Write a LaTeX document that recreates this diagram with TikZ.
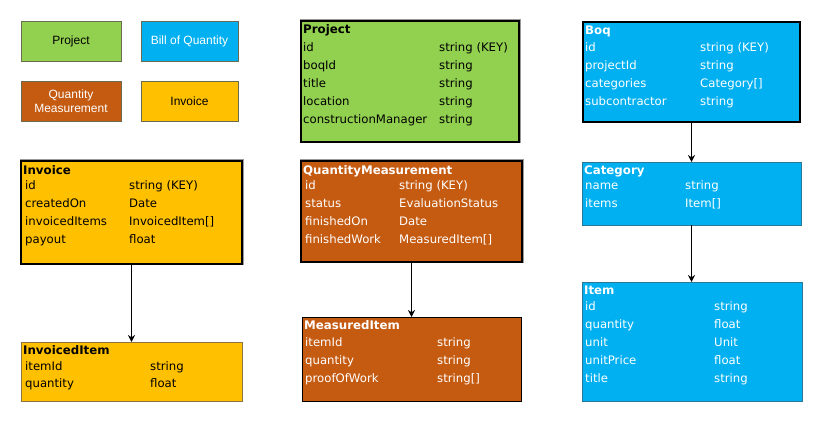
\documentclass[tikz,border=0pt]{standalone}
\usepackage{fontspec}
\setmainfont{DejaVu Sans}
\newfontfamily\legendfont{Liberation Sans}
\usetikzlibrary{arrows.meta}
\definecolor{cgreen}{HTML}{92D050}
\definecolor{cblue}{HTML}{00B0F0}
\definecolor{corange}{HTML}{C55A11}
\definecolor{cyellow}{HTML}{FFC000}
\definecolor{lborder}{HTML}{6B6B50}
\definecolor{bborder}{HTML}{2C7894}
\definecolor{yborder}{HTML}{8A7340}
\tikzset{
  legendbox/.style={draw=lborder, line width=0.9pt, inner sep=0pt, outer sep=0pt, anchor=north west, align=center, font=\legendfont\fontsize{12}{14.5}\selectfont},
  tbox/.style={inner sep=0pt, outer sep=0pt, anchor=north west},
  thickbox/.style={tbox, draw=black, line width=1.8pt, preaction={draw=gray!80, line width=3pt}},
  thinbox/.style={tbox, line width=0.9pt},
  ttl/.style={anchor=mid west, inner sep=0pt, yshift=-1.5pt, font=\fontsize{11.8}{14}\selectfont\bfseries},
  fld/.style={anchor=mid west, inner sep=0pt, yshift=-1.5pt, font=\fontsize{11.7}{14}\selectfont},
  arr/.style={draw=black, line width=1pt, -{Stealth[length=7pt,width=7pt]}},
}
\begin{document}
\begin{tikzpicture}[x=1pt,y=-1pt]
\useasboundingbox (0,0) rectangle (823,422);
% legend
\node[legendbox, fill=cgreen, minimum width=100, minimum height=40] (lp) at (21,21) {Project};
\node[legendbox, fill=cblue, text=white, minimum width=97, minimum height=40] (lb) at (141,21) {Bill of Quantity};
\node[legendbox, fill=corange, text=white, minimum width=100, minimum height=40] (lq) at (21,81) {Quantity\\Measurement};
\node[legendbox, fill=cyellow, minimum width=97, minimum height=40] (li) at (141,81) {Invoice};

% Project
\node[thickbox, fill=cgreen, minimum width=218, minimum height=121] (proj) at (301,21) {};
\node[ttl] (projt) at (303,29.5) {Project};
\node[fld] (p1a) at (303,47.3) {id};               \node[fld] (p1b) at (439,47.3) {string (KEY)};
\node[fld] (p2a) at (303,65.3) {boqId};            \node[fld] (p2b) at (439,65.3) {string};
\node[fld] (p3a) at (303,83.3) {title};            \node[fld] (p3b) at (439,83.3) {string};
\node[fld] (p4a) at (303,101.3) {location};        \node[fld] (p4b) at (439,101.3) {string};
\node[fld] (p5a) at (303,119.3) {constructionManager}; \node[fld] (p5b) at (439,119.3) {string};

% Boq
\node[tbox, draw=black, line width=2.2pt, fill=cblue, minimum width=217, minimum height=100] (boq) at (583,22) {};
\begin{scope}[every node/.append style={text=white}]
\node[ttl] (boqt) at (585,30) {Boq};
\node[fld] (b1a) at (585,47.7) {id};            \node[fld] (b1b) at (700,47.7) {string (KEY)};
\node[fld] (b2a) at (585,65.5) {projectId};     \node[fld] (b2b) at (700,65.5) {string};
\node[fld] (b3a) at (585,83.3) {categories};    \node[fld] (b3b) at (700,83.3) {Category[]};
\node[fld] (b4a) at (585,101.2) {subcontractor}; \node[fld] (b4b) at (700,101.2) {string};
\end{scope}

% Category
\node[thinbox, draw=bborder, fill=cblue, minimum width=219, minimum height=63] (cat) at (582,162) {};
\begin{scope}[every node/.append style={text=white}]
\node[ttl] (catt) at (584,170) {Category};
\node[fld] (c1a) at (585,185.7) {name};   \node[fld] (c1b) at (685,185.7) {string};
\node[fld] (c2a) at (585,203.3) {items};  \node[fld] (c2b) at (685,203.3) {Item[]};
\end{scope}

% Item
\node[thinbox, draw=bborder, fill=cblue, minimum width=220, minimum height=119] (item) at (582,282) {};
\begin{scope}[every node/.append style={text=white}]
\node[ttl] (itemt) at (584,290) {Item};
\node[fld] (i1a) at (585,306) {id};         \node[fld] (i1b) at (714,306) {string};
\node[fld] (i2a) at (585,324) {quantity};   \node[fld] (i2b) at (714,324) {float};
\node[fld] (i3a) at (585,342) {unit};       \node[fld] (i3b) at (714,342) {Unit};
\node[fld] (i4a) at (585,360) {unitPrice};  \node[fld] (i4b) at (714,360) {float};
\node[fld] (i5a) at (585,378) {title};      \node[fld] (i5b) at (714,378) {string};
\end{scope}

% Invoice
\node[thickbox, fill=cyellow, minimum width=221, minimum height=103] (inv) at (21,161) {};
\node[ttl] (invt) at (23,170) {Invoice};
\node[fld] (v1a) at (25,185.7) {id};            \node[fld] (v1b) at (129,185.7) {string (KEY)};
\node[fld] (v2a) at (25,203.5) {createdOn};     \node[fld] (v2b) at (129,203.5) {Date};
\node[fld] (v3a) at (25,221.3) {invoicedItems}; \node[fld] (v3b) at (129,221.3) {InvoicedItem[]};
\node[fld] (v4a) at (25,239.2) {payout};        \node[fld] (v4b) at (129,239.2) {float};

% InvoicedItem
\node[thinbox, draw=yborder, fill=cyellow, minimum width=221, minimum height=59] (ii) at (21,342) {};
\node[ttl] (iit) at (23,350) {InvoicedItem};
\node[fld] (ii1a) at (25,366) {itemId};    \node[fld] (ii1b) at (150,366) {string};
\node[fld] (ii2a) at (25,383.5) {quantity}; \node[fld] (ii2b) at (150,383.5) {float};

% QuantityMeasurement
\node[thickbox, fill=corange, minimum width=221, minimum height=101] (qm) at (301,161) {};
\begin{scope}[every node/.append style={text=white}]
\node[ttl] (qmt) at (303,170) {QuantityMeasurement};
\node[fld] (q1a) at (305,185.7) {id};           \node[fld] (q1b) at (399,185.7) {string (KEY)};
\node[fld] (q2a) at (305,203.5) {status};       \node[fld] (q2b) at (399,203.5) {EvaluationStatus};
\node[fld] (q3a) at (305,221.3) {finishedOn};   \node[fld] (q3b) at (399,221.3) {Date};
\node[fld] (q4a) at (305,239.2) {finishedWork}; \node[fld] (q4b) at (399,239.2) {MeasuredItem[]};
\end{scope}

% MeasuredItem
\node[thinbox, draw=black, fill=corange, minimum width=219, minimum height=84] (mi) at (302,317) {};
\begin{scope}[every node/.append style={text=white}]
\node[ttl] (mit) at (304,325.7) {MeasuredItem};
\node[fld] (m1a) at (305,342.3) {itemId};      \node[fld] (m1b) at (437,342.3) {string};
\node[fld] (m2a) at (305,360) {quantity};      \node[fld] (m2b) at (437,360) {string};
\node[fld] (m3a) at (305,378) {proofOfWork};   \node[fld] (m3b) at (437,378) {string[]};
\end{scope}

% connectors
\draw[arr] (boq.south) -- (boq.south |- cat.north);
\draw[arr] (cat.south) -- (cat.south |- item.north);
\draw[arr] (inv.south) -- (inv.south |- ii.north);
\draw[arr] (qm.south) -- (qm.south |- mi.north);
\end{tikzpicture}
\end{document}
